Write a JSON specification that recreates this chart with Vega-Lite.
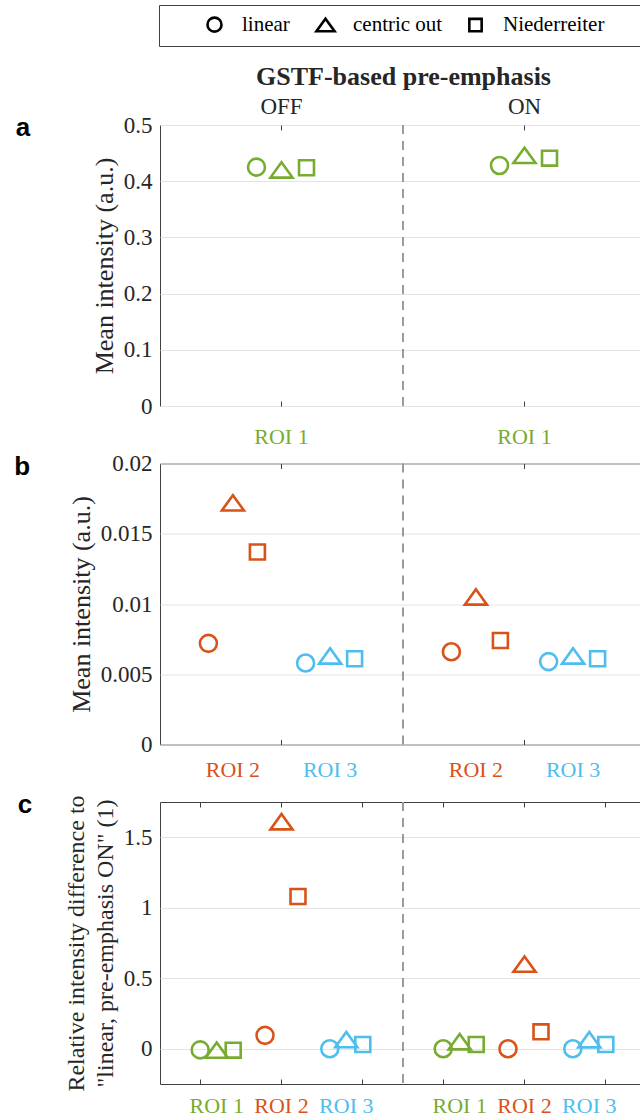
{
  "$schema": "https://vega.github.io/schema/vega-lite/v6.json",
  "padding": {"left": 13, "top": 4, "right": 0, "bottom": 0},
  "background": "white",
  "bounds": "flush",
  "spacing": 57.5,
  "resolve": {"scale": {"xOffset": "independent"}},
  "config": {
    "font": "Liberation Serif",
    "view": {"stroke": "#404040", "strokeWidth": 1},
    "axis": {
      "labelFont": "Liberation Serif",
      "titleFont": "Liberation Serif",
      "labelColor": "#262626",
      "titleColor": "#262626",
      "tickColor": "#404040",
      "domain": false,
      "grid": false,
      "titleFontWeight": "normal"
    },
    "axisY": {"grid": true, "gridColor": "#e3e3e3", "ticks": false, "labelPadding": 8, "labelFontSize": 23, "titleFontSize": 26, "titlePadding": 6},
    "title": {"font": "Liberation Sans", "fontSize": 26, "fontWeight": "bold", "color": "black"}
  },
  "vconcat": [
    {
      "width": 486,
      "height": 281,
      "title": {"text": "a", "orient": "left", "anchor": "end", "angle": 0, "align": "left", "baseline": "alphabetic", "frame": "group", "offset": 61, "dy": 11},
      "layer": [
        {
          "data": {"values": [
            {"pre": "OFF", "roi": "ROI 1", "group": "OFF ROI 1", "method": "linear", "value": 0.425},
            {"pre": "OFF", "roi": "ROI 1", "group": "OFF ROI 1", "method": "centric out", "value": 0.42},
            {"pre": "OFF", "roi": "ROI 1", "group": "OFF ROI 1", "method": "Niederreiter", "value": 0.424},
            {"pre": "ON", "roi": "ROI 1", "group": "ON ROI 1", "method": "linear", "value": 0.428},
            {"pre": "ON", "roi": "ROI 1", "group": "ON ROI 1", "method": "centric out", "value": 0.446},
            {"pre": "ON", "roi": "ROI 1", "group": "ON ROI 1", "method": "Niederreiter", "value": 0.441}
          ]},
          "mark": {"type": "point", "filled": false, "strokeWidth": 2.6, "size": 289, "opacity": 1},
          "encoding": {
            "x": {"field": "group", "type": "nominal",
              "scale": {"type": "band", "domain": ["s0", "s1", "OFF ROI 1", "s3", "s4", "s5", "s6", "ON ROI 1", "s8", "s9"], "paddingInner": 0, "paddingOuter": 0},
              "axis": {"orient": "bottom", "title": null, "values": ["OFF ROI 1", "ON ROI 1"], "tickSize": -5, "labelAngle": 0, "labelFontSize": 22, "labelPadding": 25,
                "labelExpr": "slice(datum.value, indexof(datum.value, ' ') + 1)",
                "labelColor": {"condition": [{"test": "indexof(datum.value, 'ROI 1') >= 0", "value": "#77AC30"}, {"test": "indexof(datum.value, 'ROI 2') >= 0", "value": "#D95319"}], "value": "#4DBEEE"}}},
            "xOffset": {"field": "method", "type": "nominal", "scale": {"type": "point", "domain": ["linear", "centric out", "Niederreiter"], "range": [-0.7, 49.3], "padding": 0}},
            "y": {"field": "value", "type": "quantitative",
              "scale": {"domain": [0, 0.5], "nice": false, "zero": false},
              "axis": {"title": "Mean intensity (a.u.)", "values": [0, 0.1, 0.2, 0.3, 0.4, 0.5], "format": ".1~f"}},
            "color": {"field": "roi", "type": "nominal", "scale": {"domain": ["ROI 1", "ROI 2", "ROI 3"], "range": ["#77AC30", "#D95319", "#4DBEEE"]}, "legend": null},
            "shape": {"field": "method", "type": "nominal",
              "scale": {"domain": ["linear", "centric out", "Niederreiter"], "range": ["circle", "M0,-0.9L1.3,0.9L-1.3,0.9Z", "M-0.88,-0.88H0.88V0.88H-0.88Z"]},
              "legend": {"orient": "none", "legendX": -1, "legendY": -120, "direction": "horizontal",
                "title": "\u00a0", "titleOrient": "left", "titleFontSize": 4, "titlePadding": 36,
                "padding": 9, "strokeColor": "#404040", "fillColor": "white",
                "symbolSize": 196, "symbolStrokeWidth": 2.6, "symbolStrokeColor": "black", "symbolFillColor": "transparent",
                "labelFont": "Liberation Serif", "labelFontSize": 21, "labelColor": "black", "labelOffset": 17, "columnPadding": 21,
                "labelExpr": "datum.label == 'Niederreiter' ? datum.label + '\u2800\u2800' : datum.label"}}
          }
        },
        {
          "data": {"values": [{"divider": "s5"}]},
          "mark": {"type": "rule", "color": "#9a9a9a", "strokeWidth": 2, "strokeDash": [9, 7]},
          "encoding": {
            "x": {"field": "divider", "type": "nominal", "bandPosition": 0,
              "scale": {"type": "band", "domain": ["s0", "s1", "OFF ROI 1", "s3", "s4", "s5", "s6", "ON ROI 1", "s8", "s9"], "paddingInner": 0, "paddingOuter": 0},
              "axis": {"orient": "top", "values": ["OFF ROI 1", "ON ROI 1"], "tickSize": -5, "labelAngle": 0, "labelFontSize": 23, "labelColor": "#262626", "labelPadding": 12,
                "labelExpr": "slice(datum.value, 0, indexof(datum.value, ' '))",
                "title": "GSTF-based pre-emphasis", "titleFontSize": 26, "titleFontWeight": "bold", "titlePadding": 6}}
          }
        }
      ],
      "resolve": {"axis": {"x": "independent"}}
    },
    {
      "width": 486,
      "height": 281,
      "title": {"text": "b", "orient": "left", "anchor": "end", "angle": 0, "align": "left", "baseline": "alphabetic", "frame": "group", "offset": 38, "dy": 11},
      "layer": [
        {
          "data": {"values": [
            {"pre": "OFF", "roi": "ROI 2", "group": "OFF ROI 2", "method": "linear", "value": 0.0072},
            {"pre": "OFF", "roi": "ROI 2", "group": "OFF ROI 2", "method": "centric out", "value": 0.0172},
            {"pre": "OFF", "roi": "ROI 2", "group": "OFF ROI 2", "method": "Niederreiter", "value": 0.0137},
            {"pre": "OFF", "roi": "ROI 3", "group": "OFF ROI 3", "method": "linear", "value": 0.0058},
            {"pre": "OFF", "roi": "ROI 3", "group": "OFF ROI 3", "method": "centric out", "value": 0.0063},
            {"pre": "OFF", "roi": "ROI 3", "group": "OFF ROI 3", "method": "Niederreiter", "value": 0.0061},
            {"pre": "ON", "roi": "ROI 2", "group": "ON ROI 2", "method": "linear", "value": 0.0066},
            {"pre": "ON", "roi": "ROI 2", "group": "ON ROI 2", "method": "centric out", "value": 0.0105},
            {"pre": "ON", "roi": "ROI 2", "group": "ON ROI 2", "method": "Niederreiter", "value": 0.0074},
            {"pre": "ON", "roi": "ROI 3", "group": "ON ROI 3", "method": "linear", "value": 0.0059},
            {"pre": "ON", "roi": "ROI 3", "group": "ON ROI 3", "method": "centric out", "value": 0.0063},
            {"pre": "ON", "roi": "ROI 3", "group": "ON ROI 3", "method": "Niederreiter", "value": 0.0061}
          ]},
          "mark": {"type": "point", "filled": false, "strokeWidth": 2.6, "size": 289, "opacity": 1},
          "encoding": {
            "x": {"field": "group", "type": "nominal",
              "scale": {"type": "band", "domain": ["s0", "OFF ROI 2", "s2", "OFF ROI 3", "s4", "s5", "ON ROI 2", "s7", "ON ROI 3", "s9"], "paddingInner": 0, "paddingOuter": 0},
              "axis": {"orient": "bottom", "title": null, "values": ["OFF ROI 2", "s2", "OFF ROI 3", "ON ROI 2", "s7", "ON ROI 3"], "tickSize": -5, "labelAngle": 0, "labelFontSize": 22, "labelPadding": 20,
                "tickOpacity": {"condition": {"test": "indexof(datum.value, 'ROI') >= 0", "value": 0}, "value": 1},
                "labelExpr": "indexof(datum.value, 'ROI') >= 0 ? slice(datum.value, indexof(datum.value, ' ') + 1) : ''",
                "labelColor": {"condition": [{"test": "indexof(datum.value, 'ROI 1') >= 0", "value": "#77AC30"}, {"test": "indexof(datum.value, 'ROI 2') >= 0", "value": "#D95319"}], "value": "#4DBEEE"}}},
            "xOffset": {"field": "method", "type": "nominal", "scale": {"type": "point", "domain": ["linear", "centric out", "Niederreiter"], "range": [-0.2, 48.8], "padding": 0}},
            "y": {"field": "value", "type": "quantitative",
              "scale": {"domain": [0, 0.02], "nice": false, "zero": false},
              "axis": {"title": "Mean intensity (a.u.)", "values": [0, 0.005, 0.01, 0.015, 0.02], "format": ".3~f"}},
            "color": {"field": "roi", "type": "nominal", "scale": {"domain": ["ROI 1", "ROI 2", "ROI 3"], "range": ["#77AC30", "#D95319", "#4DBEEE"]}, "legend": null},
            "shape": {"field": "method", "type": "nominal",
              "scale": {"domain": ["linear", "centric out", "Niederreiter"], "range": ["circle", "M0,-0.9L1.3,0.9L-1.3,0.9Z", "M-0.88,-0.88H0.88V0.88H-0.88Z"]}}
          }
        },
        {
          "data": {"values": [{"divider": "s5"}]},
          "mark": {"type": "rule", "color": "#9a9a9a", "strokeWidth": 2, "strokeDash": [9, 7]},
          "encoding": {
            "x": {"field": "divider", "type": "nominal", "bandPosition": 0,
              "scale": {"type": "band", "domain": ["s0", "OFF ROI 2", "s2", "OFF ROI 3", "s4", "s5", "ON ROI 2", "s7", "ON ROI 3", "s9"], "paddingInner": 0, "paddingOuter": 0},
              "axis": {"orient": "top", "values": ["s2", "s7"], "tickSize": -5, "labels": false, "title": null}}
          }
        }
      ],
      "resolve": {"axis": {"x": "independent"}}
    },
    {
      "width": 486,
      "height": 282,
      "title": {"text": "c", "orient": "left", "anchor": "end", "angle": 0, "align": "left", "baseline": "alphabetic", "frame": "group", "offset": 32, "dy": 11},
      "layer": [
        {
          "data": {"values": [
            {"pre": "OFF", "roi": "ROI 1", "group": "OFF ROI 1", "method": "linear", "value": -0.008},
            {"pre": "OFF", "roi": "ROI 1", "group": "OFF ROI 1", "method": "centric out", "value": -0.01},
            {"pre": "OFF", "roi": "ROI 1", "group": "OFF ROI 1", "method": "Niederreiter", "value": -0.01},
            {"pre": "OFF", "roi": "ROI 2", "group": "OFF ROI 2", "method": "linear", "value": 0.095},
            {"pre": "OFF", "roi": "ROI 2", "group": "OFF ROI 2", "method": "centric out", "value": 1.61},
            {"pre": "OFF", "roi": "ROI 2", "group": "OFF ROI 2", "method": "Niederreiter", "value": 1.08},
            {"pre": "OFF", "roi": "ROI 3", "group": "OFF ROI 3", "method": "linear", "value": 0.0},
            {"pre": "OFF", "roi": "ROI 3", "group": "OFF ROI 3", "method": "centric out", "value": 0.065},
            {"pre": "OFF", "roi": "ROI 3", "group": "OFF ROI 3", "method": "Niederreiter", "value": 0.03},
            {"pre": "ON", "roi": "ROI 1", "group": "ON ROI 1", "method": "linear", "value": 0.0},
            {"pre": "ON", "roi": "ROI 1", "group": "ON ROI 1", "method": "centric out", "value": 0.05},
            {"pre": "ON", "roi": "ROI 1", "group": "ON ROI 1", "method": "Niederreiter", "value": 0.03},
            {"pre": "ON", "roi": "ROI 2", "group": "ON ROI 2", "method": "linear", "value": 0.0},
            {"pre": "ON", "roi": "ROI 2", "group": "ON ROI 2", "method": "centric out", "value": 0.6},
            {"pre": "ON", "roi": "ROI 2", "group": "ON ROI 2", "method": "Niederreiter", "value": 0.12},
            {"pre": "ON", "roi": "ROI 3", "group": "ON ROI 3", "method": "linear", "value": 0.0},
            {"pre": "ON", "roi": "ROI 3", "group": "ON ROI 3", "method": "centric out", "value": 0.064},
            {"pre": "ON", "roi": "ROI 3", "group": "ON ROI 3", "method": "Niederreiter", "value": 0.03}
          ]},
          "mark": {"type": "point", "filled": false, "strokeWidth": 2.6, "size": 289, "opacity": 1},
          "encoding": {
            "x": {"field": "group", "type": "nominal",
              "scale": {"type": "band", "domain": ["s0", "s1", "s2", "OFF ROI 1", "s4", "s5", "s6", "OFF ROI 2", "s8", "s9", "s10", "OFF ROI 3", "s12", "s13", "s14", "s15", "s16", "s17", "ON ROI 1", "s19", "s20", "s21", "ON ROI 2", "s23", "s24", "s25", "ON ROI 3", "s27", "s28", "s29"], "paddingInner": 0, "paddingOuter": 0},
              "axis": {"orient": "bottom", "title": null, "values": ["s2", "OFF ROI 1", "OFF ROI 2", "OFF ROI 3", "s12", "s17", "ON ROI 1", "ON ROI 2", "ON ROI 3", "s27"], "tickSize": -5, "labelAngle": 0, "labelFontSize": 22, "labelPadding": 16,
                "tickOpacity": {"condition": {"test": "indexof(datum.value, 'ROI 1') >= 0 || indexof(datum.value, 'ROI 3') >= 0", "value": 0}, "value": 1},
                "labelExpr": "indexof(datum.value, 'ROI') >= 0 ? slice(datum.value, indexof(datum.value, ' ') + 1) : ''",
                "labelColor": {"condition": [{"test": "indexof(datum.value, 'ROI 1') >= 0", "value": "#77AC30"}, {"test": "indexof(datum.value, 'ROI 2') >= 0", "value": "#D95319"}], "value": "#4DBEEE"}}},
            "xOffset": {"field": "method", "type": "nominal", "scale": {"type": "point", "domain": ["linear", "centric out", "Niederreiter"], "range": [-8.4, 24.6], "padding": 0}},
            "y": {"field": "value", "type": "quantitative",
              "scale": {"domain": [-0.25, 1.75], "nice": false, "zero": false},
              "axis": {"title": ["Relative intensity difference to", "\"linear, pre-emphasis ON\" (1)"], "titleFontSize": 24, "titleLineHeight": 29, "values": [0, 0.5, 1, 1.5], "format": ".1~f"}},
            "color": {"field": "roi", "type": "nominal", "scale": {"domain": ["ROI 1", "ROI 2", "ROI 3"], "range": ["#77AC30", "#D95319", "#4DBEEE"]}, "legend": null},
            "shape": {"field": "method", "type": "nominal",
              "scale": {"domain": ["linear", "centric out", "Niederreiter"], "range": ["circle", "M0,-0.9L1.3,0.9L-1.3,0.9Z", "M-0.88,-0.88H0.88V0.88H-0.88Z"]}}
          }
        },
        {
          "data": {"values": [{"divider": "s15"}]},
          "mark": {"type": "rule", "color": "#9a9a9a", "strokeWidth": 2, "strokeDash": [9, 7]},
          "encoding": {
            "x": {"field": "divider", "type": "nominal", "bandPosition": 0,
              "scale": {"type": "band", "domain": ["s0", "s1", "s2", "OFF ROI 1", "s4", "s5", "s6", "OFF ROI 2", "s8", "s9", "s10", "OFF ROI 3", "s12", "s13", "s14", "s15", "s16", "s17", "ON ROI 1", "s19", "s20", "s21", "ON ROI 2", "s23", "s24", "s25", "ON ROI 3", "s27", "s28", "s29"], "paddingInner": 0, "paddingOuter": 0},
              "axis": {"orient": "top", "values": ["s2", "OFF ROI 2", "s12", "s17", "ON ROI 2", "s27"], "tickSize": -5, "labels": false, "title": null}}
          }
        }
      ],
      "resolve": {"axis": {"x": "independent"}}
    }
  ]
}
